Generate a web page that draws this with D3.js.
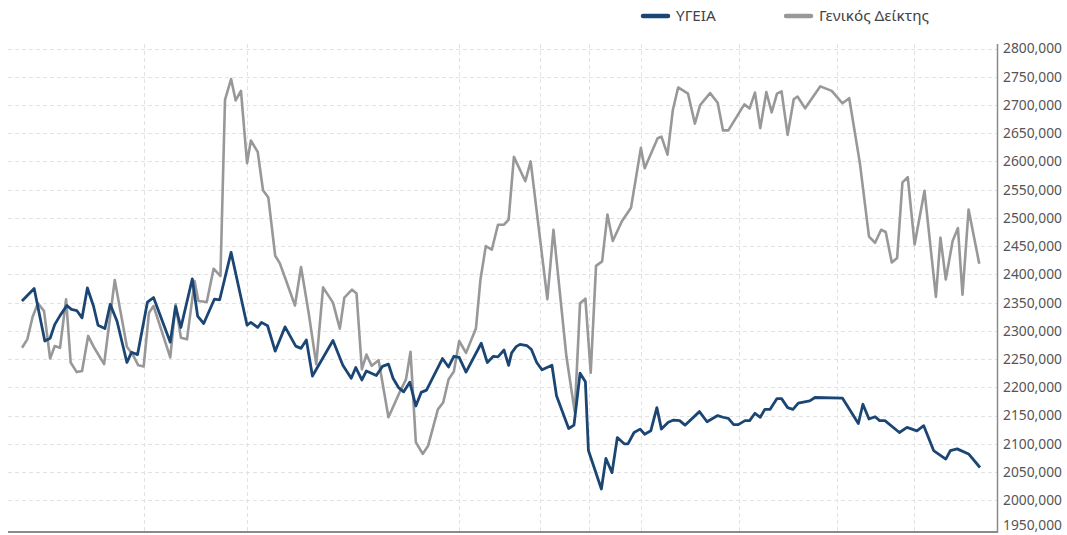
<!DOCTYPE html>
<html><head><meta charset="utf-8">
<script src="https://cdn.jsdelivr.net/npm/d3@7"></script>
<style>html,body{margin:0;padding:0;background:#fff;}svg{display:block;}</style>
</head><body>
<div id="chart"></div>
<script>
// Series names (legend)
const seriesNames = ["ΥΓΕΙΑ", "Γενικός Δείκτης"];

// ΥΓΕΙΑ: day offset from start of period, value
const hygeiaDay = [0,16,30,37,43,50,59,65,72,79,86,94,100,109,116,125,138,144,152,165,173,195,202,209,224,231,239,253,260,275,296,301,310,315,323,333,346,360,367,374,382,409,422,433,439,447,453,466,474,482,488,495,502,510,518,525,532,553,561,568,575,584,604,612,620,626,634,640,644,650,655,664,670,677,684,697,703,719,726,734,741,745,762,768,776,783,792,797,805,813,819,827,835,841,850,857,865,872,891,901,915,922,929,936,942,951,957,964,971,977,984,993,999,1007,1014,1021,1036,1043,1079,1100,1106,1114,1122,1128,1135,1154,1164,1177,1186,1199,1215,1221,1230,1245,1260];
const hygeiaVal = [2353,2375,2282,2287,2311,2327,2345,2338,2336,2323,2376,2344,2310,2304,2347,2317,2244,2262,2258,2351,2359,2280,2343,2306,2392,2326,2313,2356,2355,2439,2310,2315,2306,2315,2309,2264,2307,2273,2269,2284,2220,2283,2239,2216,2235,2213,2229,2221,2237,2241,2216,2200,2192,2209,2167,2191,2195,2251,2236,2255,2253,2227,2278,2244,2255,2254,2266,2239,2261,2272,2276,2274,2267,2244,2231,2239,2185,2127,2133,2225,2210,2088,2020,2074,2049,2111,2100,2100,2120,2126,2117,2123,2164,2126,2138,2142,2141,2133,2157,2139,2150,2147,2145,2134,2134,2141,2141,2154,2147,2161,2161,2180,2180,2164,2161,2172,2176,2182,2181,2136,2170,2144,2148,2141,2141,2120,2129,2123,2132,2088,2073,2088,2091,2082,2058];

// Γενικός Δείκτης: day offset, value
const genikosDay = [0,7,14,21,29,37,43,50,58,64,72,79,87,95,108,122,138,146,153,160,167,173,195,202,209,217,227,232,243,252,261,267,275,281,288,296,301,310,317,324,333,339,346,359,367,377,387,396,409,418,424,434,440,447,453,460,469,482,497,505,511,518,527,534,547,554,561,568,575,584,597,603,610,618,626,634,640,647,662,669,691,699,716,727,734,741,748,755,763,770,777,789,801,814,819,836,841,849,856,863,876,885,892,905,915,922,929,950,957,964,971,979,986,993,999,1007,1015,1020,1030,1050,1065,1079,1088,1102,1114,1122,1130,1136,1144,1151,1158,1165,1174,1187,1202,1208,1215,1224,1231,1237,1245,1259];
const genikosVal = [2270,2285,2325,2349,2335,2251,2273,2270,2356,2244,2227,2229,2291,2270,2241,2390,2272,2257,2239,2237,2332,2344,2253,2347,2288,2285,2388,2353,2351,2410,2397,2709,2746,2708,2725,2597,2637,2617,2549,2536,2433,2420,2394,2345,2413,2332,2241,2377,2350,2304,2359,2373,2366,2232,2258,2238,2248,2147,2192,2214,2263,2103,2082,2096,2161,2173,2214,2228,2282,2261,2304,2391,2450,2444,2488,2488,2497,2608,2565,2600,2356,2479,2255,2156,2349,2357,2226,2415,2423,2506,2459,2494,2518,2624,2588,2641,2644,2612,2691,2731,2720,2667,2700,2721,2704,2655,2655,2701,2694,2722,2659,2723,2687,2720,2724,2647,2710,2715,2694,2733,2725,2703,2712,2597,2467,2456,2479,2475,2421,2429,2563,2572,2453,2548,2360,2465,2391,2459,2482,2364,2515,2419];

// Vertical gridline positions (day offsets) and y ticks
const gridDays = [160,296,575,681,746,814,943,1072,1173];
const yTicks = [1950,2000,2050,2100,2150,2200,2250,2300,2350,2400,2450,2500,2550,2600,2650,2700,2750,2800];

const W = 1067, H = 535;
const plot = {left: 8, right: 997, top: 44, bottom: 532};
const colors = {hygeia: "#1b4674", genikos: "#98989a"};

const svg = d3.select("#chart").append("svg").attr("width", W).attr("height", H);

const x = d3.scaleLinear().domain([0, 1260]).range([22, 980]);
const y = d3.scaleLinear().domain([1950, 2800]).range([528.5, 48.5]);

// horizontal gridlines
svg.append("g").selectAll("line").data(yTicks.filter(d => d > 1950)).join("line")
  .attr("x1", plot.left).attr("x2", plot.right)
  .attr("y1", d => Math.round(y(d)) + 0.5).attr("y2", d => Math.round(y(d)) + 0.5)
  .attr("stroke", "#e2e2e2").attr("stroke-width", 1).attr("stroke-dasharray", "4,3");

// vertical gridlines
svg.append("g").selectAll("line").data(gridDays).join("line")
  .attr("x1", d => Math.round(x(d)) + 0.5).attr("x2", d => Math.round(x(d)) + 0.5)
  .attr("y1", plot.top).attr("y2", plot.bottom)
  .attr("stroke", "#e2e2e2").attr("stroke-width", 1).attr("stroke-dasharray", "4,3");

// right y axis
const yAxis = d3.axisRight(y).tickValues(yTicks).tickSize(0).tickPadding(6)
  .tickFormat(d => d3.format(".3f")(d).replace(".", ","));
const ya = svg.append("g").attr("transform", `translate(${plot.right},0)`).call(yAxis);
ya.select(".domain").remove();
ya.selectAll("text").attr("font-family", "'Noto Sans', sans-serif").attr("font-size", 13.8).attr("fill", "#555")
  .attr("dy", d => d === 1950 ? "0.1em" : "0.32em");

svg.append("line").attr("x1", plot.right + 0.5).attr("x2", plot.right + 0.5)
  .attr("y1", plot.top).attr("y2", plot.bottom + 1).attr("stroke", "#8a8a8a").attr("stroke-width", 1.5);
svg.append("line").attr("x1", plot.left).attr("x2", plot.right + 1)
  .attr("y1", plot.bottom).attr("y2", plot.bottom).attr("stroke", "#8a8a8a").attr("stroke-width", 2);

const line = d3.line().x(d => x(d[0])).y(d => y(d[1]));

const genData = genikosDay.map((d, i) => [d, genikosVal[i]]);
const hygData = hygeiaDay.map((d, i) => [d, hygeiaVal[i]]);

svg.append("path").datum(genData).attr("d", line).attr("fill", "none")
  .attr("stroke", colors.genikos).attr("stroke-width", 2.6).attr("stroke-linejoin", "round");
svg.append("path").datum(hygData).attr("d", line).attr("fill", "none")
  .attr("stroke", colors.hygeia).attr("stroke-width", 2.8).attr("stroke-linejoin", "round");

// legend
const legend = [
  {name: seriesNames[0], color: colors.hygeia, x0: 643},
  {name: seriesNames[1], color: colors.genikos, x0: 786}
];
const lg = svg.append("g");
legend.forEach(l => {
  lg.append("line").attr("x1", l.x0).attr("x2", l.x0 + 25).attr("y1", 16).attr("y2", 16)
    .attr("stroke", l.color).attr("stroke-width", 4.5).attr("stroke-linecap", "round");
  lg.append("text").attr("x", l.x0 + 33).attr("y", 16).attr("dy", "0.35em")
    .attr("font-family", "'Noto Sans', sans-serif").attr("font-size", 15.3).attr("fill", "#444")
    .text(l.name);
});
</script>
</body></html>
